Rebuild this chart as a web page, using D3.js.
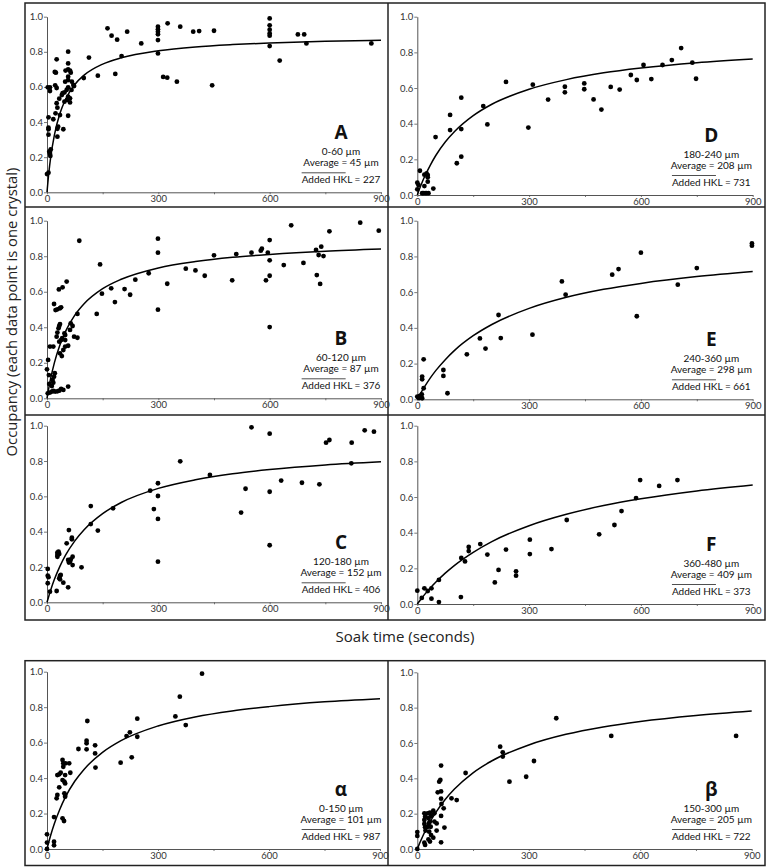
<!DOCTYPE html>
<html>
<head>
<meta charset="utf-8">
<script src="https://cdn.jsdelivr.net/npm/d3@7"></script>
<style>
  html, body { margin: 0; padding: 0; background: #fff; }
  svg { display: block; }
</style>
</head>
<body>
<svg id="chart" width="770" height="867"></svg>
<script>
// ---------------- DATA ----------------
const panelKeys   = ["A", "B", "C", "D", "E", "F", "α", "β"];
const sizeRanges  = ["0-60 µm", "60-120 µm", "120-180 µm", "180-240 µm", "240-360 µm", "360-480 µm", "0-150 µm", "150-300 µm"];
const averageSizes = [45, 87, 152, 208, 298, 409, 101, 205];
const addedHKL    = [227, 376, 406, 731, 661, 373, 987, 722];

const xTicks = [0, 300, 600, 900];
const xMinorTicks = [0, 150, 300, 450, 600, 750, 900];
const yTicks = [0, 0.2, 0.4, 0.6, 0.8, 1.0];

const yAxisTitle = "Occupancy (each data point is one crystal)";
const xAxisTitle = "Soak time (seconds)";

// soak time (s), occupancy
const pointsA = [
  [0,0.104],[4,0.112],[4,0.427],[4,0.368],[4,0.359],[4,0.328],[2,0.598],[8,0.598],[8,0.577],
  [6,0.231],[8,0.218],[10,0.245],[9,0.207],[17,0.416],[21,0.685],[24,0.681],[22,0.609],[26,0.594],
  [26,0.757],[23,0.450],[26,0.507],[28,0.482],[28,0.362],[30,0.374],[28,0.317],[33,0.533],[35,0.440],
  [40,0.554],[42,0.564],[44,0.359],[47,0.569],[49,0.630],[47,0.516],[50,0.693],[53,0.583],[54,0.526],
  [57,0.545],[57,0.801],[57,0.734],[57,0.700],[57,0.658],[57,0.639],[57,0.598],[57,0.436],[62,0.693],
  [64,0.681],[62,0.512],[62,0.535],[66,0.583],[67,0.630],[71,0.611],[73,0.605],
  [163,0.934],[174,0.892],[189,0.869],[184,0.674],[201,0.776],[113,0.767],[137,0.664],[99,0.651],
  [216,0.915],[254,0.848],[299,0.943],[299,0.928],[299,0.915],[299,0.900],[299,0.867],[299,0.791],
  [313,0.657],[324,0.653],[325,0.962],[350,0.630],[359,0.943],[394,0.915],[410,0.918],[450,0.920],
  [445,0.609],[600,0.990],[600,0.951],[600,0.926],[600,0.905],[600,0.892],[600,0.833],[627,0.750],
  [676,0.899],[693,0.899],[699,0.848],[874,0.848]
];
const pointsB = [
  [0,0.163],[3,0.216],[8,0.291],[5,0.131],[2,0.028],[8,0.032],[6,0.081],[13,0.038],[17,0.041],
  [22,0.038],[28,0.039],[33,0.043],[44,0.047],[13,0.069],[15,0.103],[19,0.122],[21,0.141],[17,0.088],
  [17,0.291],[19,0.531],[23,0.497],[28,0.501],[35,0.507],[32,0.613],[28,0.370],[26,0.347],[31,0.394],
  [33,0.407],[35,0.418],[33,0.319],[38,0.328],[41,0.338],[38,0.512],[42,0.625],[47,0.366],[35,0.253],
  [40,0.238],[44,0.272],[49,0.291],[49,0.328],[53,0.657],[57,0.296],[57,0.066],[38,0.053],[64,0.422],
  [69,0.407],[73,0.347],[82,0.341],[82,0.475],[62,0.385],[49,0.356],
  [87,0.887],[134,0.475],[143,0.754],[148,0.589],[173,0.619],[183,0.542],[209,0.615],[224,0.583],
  [238,0.668],[274,0.704],[299,0.899],[299,0.820],[299,0.499],[324,0.645],[374,0.730],[400,0.720],
  [425,0.690],[450,0.805],[499,0.664],[510,0.812],[551,0.820],[576,0.831],[579,0.842],[590,0.664],
  [595,0.820],[600,0.891],[600,0.777],[600,0.690],[600,0.401],[638,0.750],[658,0.974],[691,0.762],
  [725,0.835],[727,0.694],[732,0.807],[736,0.644],[739,0.854],[745,0.801],[761,0.940],[844,0.989],
  [894,0.944]
];
const pointsC = [
  [2,0.189],[2,0.151],[4,0.142],[2,0.108],[8,0.060],[26,0.064],[28,0.268],[28,0.281],[31,0.287],
  [33,0.274],[28,0.258],[35,0.149],[35,0.130],[37,0.155],[33,0.136],[44,0.111],[53,0.334],[57,0.085],
  [59,0.409],[57,0.240],[59,0.225],[62,0.230],[64,0.243],[67,0.366],[67,0.357],[69,0.258],[69,0.211],
  [93,0.198],[118,0.545],[118,0.443],[137,0.406],[178,0.532],[278,0.632],[288,0.528],[299,0.674],
  [299,0.602],[299,0.472],[299,0.230],[359,0.798],[439,0.721],[523,0.508],[535,0.643],[551,0.991],
  [600,0.955],[600,0.626],[600,0.323],[631,0.689],[687,0.677],[734,0.668],[752,0.904],[761,0.919],
  [821,0.904],[820,0.787],[856,0.974],[881,0.966]
];
const pointsD = [
  [0,0.032],[0,0.069],[3,0.056],[7,0.136],[13,0.010],[16,0.010],[21,0.010],[25,0.010],[30,0.010],
  [19,0.050],[19,0.114],[25,0.121],[28,0.112],[28,0.075],[28,0.099],[43,0.036],[49,0.325],[88,0.449],
  [88,0.364],[106,0.178],[118,0.546],[118,0.370],[118,0.215],[177,0.499],[188,0.396],[238,0.634],
  [298,0.378],[310,0.619],[351,0.535],[396,0.607],[396,0.576],[448,0.626],[448,0.593],[473,0.536],
  [494,0.479],[519,0.606],[543,0.591],[573,0.673],[589,0.645],[607,0.729],[628,0.650],[658,0.729],
  [683,0.757],[708,0.824],[738,0.742],[748,0.652]
];
const pointsE = [
  [0,0.015],[2,0.011],[5,0.007],[7,0.019],[12,0.028],[13,0.006],[13,0.127],[13,0.112],[17,0.224],
  [17,0.062],[70,0.164],[70,0.131],[81,0.034],[133,0.252],[168,0.341],[183,0.284],[218,0.472],
  [224,0.343],[309,0.362],[388,0.660],[398,0.586],[523,0.698],[540,0.729],[589,0.465],[600,0.821],
  [699,0.642],[750,0.735],[898,0.873],[898,0.860]
];
const pointsF = [
  [0,0.075],[12,0.034],[19,0.088],[28,0.073],[38,0.088],[38,0.030],[58,0.135],[58,0.011],[117,0.039],
  [118,0.258],[128,0.239],[138,0.320],[138,0.297],[169,0.336],[188,0.277],[208,0.121],[218,0.191],
  [238,0.305],[265,0.183],[265,0.159],[302,0.361],[302,0.280],[360,0.308],[401,0.471],[488,0.391],
  [529,0.443],[548,0.521],[587,0.594],[598,0.695],[649,0.662],[698,0.695]
];
const pointsAlpha = [
  [0,0.000],[0,0.036],[0,0.083],[19,0.021],[19,0.041],[19,0.180],[26,0.286],[28,0.305],[28,0.417],
  [33,0.421],[37,0.430],[33,0.348],[42,0.173],[46,0.158],[42,0.502],[44,0.464],[44,0.483],[42,0.389],
  [47,0.380],[47,0.314],[49,0.295],[49,0.305],[50,0.483],[49,0.417],[49,0.370],[60,0.483],[63,0.430],
  [85,0.564],[109,0.722],[107,0.611],[107,0.596],[107,0.562],[130,0.585],[130,0.539],[131,0.459],
  [199,0.487],[215,0.637],[224,0.658],[229,0.517],[244,0.735],[244,0.633],[347,0.748],[359,0.859],
  [375,0.699],[419,0.989]
];
const pointsBeta = [
  [0,0.096],[0,0.074],[0,0.000],[19,0.202],[21,0.183],[19,0.164],[19,0.142],[21,0.123],[22,0.104],
  [19,0.036],[21,0.023],[28,0.202],[30,0.174],[31,0.145],[28,0.126],[34,0.206],[37,0.187],[34,0.155],
  [36,0.126],[30,0.055],[34,0.042],[37,0.079],[32,0.098],[43,0.217],[46,0.202],[46,0.155],[43,0.064],
  [52,0.145],[52,0.104],[55,0.321],[59,0.381],[62,0.391],[64,0.472],[64,0.326],[64,0.285],[65,0.255],
  [64,0.187],[64,0.038],[71,0.230],[73,0.121],[92,0.287],[106,0.277],[130,0.430],[223,0.579],
  [230,0.547],[230,0.523],[248,0.381],[293,0.409],[314,0.498],[374,0.740],[522,0.640],[858,0.640]
];
const panelPoints = [pointsA, pointsB, pointsC, pointsD, pointsE, pointsF, pointsAlpha, pointsBeta];

// fitted saturation curves at these soak times
const fitTimes = [0, 5, 10, 20, 35, 50, 75, 100, 150, 200, 300, 400, 500, 600, 750, 900];
const fitA     = [0, 0.113, 0.200, 0.327, 0.450, 0.529, 0.614, 0.667, 0.730, 0.766, 0.806, 0.828, 0.841, 0.850, 0.860, 0.866];
const fitB     = [0, 0.060, 0.113, 0.201, 0.302, 0.377, 0.468, 0.532, 0.617, 0.670, 0.734, 0.770, 0.794, 0.810, 0.828, 0.840];
const fitC     = [0, 0.036, 0.070, 0.130, 0.205, 0.267, 0.348, 0.411, 0.502, 0.565, 0.645, 0.694, 0.728, 0.752, 0.778, 0.796];
const fitD     = [0, 0.029, 0.056, 0.105, 0.168, 0.223, 0.297, 0.356, 0.445, 0.509, 0.593, 0.647, 0.685, 0.712, 0.742, 0.763];
const fitE     = [0, 0.019, 0.038, 0.072, 0.120, 0.162, 0.222, 0.274, 0.356, 0.419, 0.509, 0.571, 0.616, 0.649, 0.687, 0.715];
const fitF     = [0, 0.014, 0.028, 0.054, 0.090, 0.123, 0.173, 0.217, 0.290, 0.350, 0.439, 0.503, 0.552, 0.590, 0.634, 0.667];
const fitAlpha = [0, 0.041, 0.078, 0.144, 0.226, 0.294, 0.382, 0.449, 0.545, 0.611, 0.694, 0.745, 0.779, 0.803, 0.830, 0.848];
const fitBeta  = [0, 0.026, 0.050, 0.096, 0.156, 0.207, 0.280, 0.339, 0.431, 0.498, 0.589, 0.649, 0.691, 0.722, 0.756, 0.781];
const panelFits = [fitA, fitB, fitC, fitD, fitE, fitF, fitAlpha, fitBeta];

// ---------------- LAYOUT ----------------
const layout = [
  { x0: 47,    x1: 381,   y0: 192.3, y1: 16.7 },   // A
  { x0: 47,    x1: 381,   y0: 398.3, y1: 220.7 },  // B
  { x0: 47,    x1: 381,   y0: 602.3, y1: 425.7 },  // C
  { x0: 417.3, x1: 752.7, y0: 195,   y1: 16.7 },   // D
  { x0: 417.3, x1: 752.7, y0: 399.3, y1: 220.7 },  // E
  { x0: 417.3, x1: 752.7, y0: 604,   y1: 425.7 },  // F
  { x0: 47,    x1: 380,   y0: 849,   y1: 671.7 },  // alpha
  { x0: 417.3, x1: 751.7, y0: 849,   y1: 672.3 }   // beta
];

const svg = d3.select("#chart");
const smallFont = "Lato, 'Open Sans', sans-serif";
const titleFont = "'Open Sans', 'Noto Sans', sans-serif";
const axisColor = "#555";
const textColor = "#333";
const frameColor = "#222";

// frames
const frame = svg.append("g").attr("fill", "none").attr("stroke", frameColor).attr("stroke-width", 1.5);
frame.append("rect").attr("x", 25).attr("y", 3).attr("width", 740).attr("height", 617);
frame.append("line").attr("x1", 25).attr("x2", 765).attr("y1", 207).attr("y2", 207);
frame.append("line").attr("x1", 25).attr("x2", 765).attr("y1", 415).attr("y2", 415);
frame.append("line").attr("x1", 388).attr("x2", 388).attr("y1", 3).attr("y2", 620);
frame.append("rect").attr("x", 25).attr("y", 660.7).attr("width", 740).attr("height", 204.8);
frame.append("line").attr("x1", 388).attr("x2", 388).attr("y1", 660.7).attr("y2", 865.5);

// axis titles
svg.append("text")
  .attr("transform", "translate(16.5,312) rotate(-90)")
  .attr("text-anchor", "middle")
  .attr("font-family", titleFont).attr("font-size", 14.8).attr("fill", "#222")
  .text(yAxisTitle);
svg.append("text")
  .attr("x", 405).attr("y", 642)
  .attr("text-anchor", "middle")
  .attr("font-family", titleFont).attr("font-size", 15).attr("fill", "#222")
  .text(xAxisTitle);

panelKeys.forEach((key, i) => {
  const L = layout[i];
  const x = d3.scaleLinear().domain([0, 900]).range([L.x0, L.x1]);
  const y = d3.scaleLinear().domain([0, 1]).range([L.y0, L.y1]);
  const g = svg.append("g");

  // y axis
  const yAx = g.append("g").attr("transform", `translate(${L.x0},0)`)
    .call(d3.axisLeft(y).tickValues(yTicks).tickFormat(d3.format(".1f")).tickSize(3).tickSizeOuter(0).tickPadding(1));
  // x axis
  const xAx = g.append("g").attr("transform", `translate(0,${L.y0})`)
    .call(d3.axisBottom(x).tickValues(xMinorTicks)
      .tickFormat(d => xTicks.includes(d) ? d : "").tickSize(2).tickSizeOuter(0).tickPadding(1));
  [yAx, xAx].forEach(ax => {
    ax.select(".domain").attr("stroke", axisColor).attr("stroke-width", 1);
    ax.selectAll(".tick line").attr("stroke", axisColor).attr("stroke-width", 0.8);
    ax.selectAll(".tick text").attr("fill", textColor).attr("font-family", smallFont).attr("font-size", 9.5);
  });

  // fitted curve
  const fitPts = fitTimes.map((t, j) => [t, panelFits[i][j]]);
  g.append("path")
    .datum(fitPts)
    .attr("fill", "none").attr("stroke", "#000").attr("stroke-width", 1.5)
    .attr("d", d3.line().x(d => x(d[0])).y(d => y(d[1])).curve(d3.curveMonotoneX));

  // data points
  g.append("g").selectAll("circle")
    .data(panelPoints[i]).join("circle")
    .attr("cx", d => x(d[0])).attr("cy", d => y(d[1])).attr("r", 2.4)
    .attr("fill", "#000");

  // annotation
  const cx = L.x0 + 294;
  const ann = g.append("g").attr("text-anchor", "middle").attr("fill", "#111");
  ann.append("text").attr("x", cx).attr("y", L.y0 - 53)
    .attr("font-family", titleFont).attr("font-weight", "bold").attr("font-size", 19)
    .text(key);
  ann.append("text").attr("x", cx).attr("y", L.y0 - 37.5)
    .attr("font-family", smallFont).attr("font-size", 10).text(sizeRanges[i]);
  ann.append("text").attr("x", cx).attr("y", L.y0 - 26)
    .attr("font-family", smallFont).attr("font-size", 10).text(`Average = ${averageSizes[i]} µm`);
  const added = ann.append("text").attr("x", cx).attr("y", L.y0 - 9)
    .attr("font-family", smallFont).attr("font-size", 10).text(`Added HKL = ${addedHKL[i]}`);
  const w = added.node().getComputedTextLength();
  g.append("line")
    .attr("x1", cx - w / 2).attr("x2", cx - w / 2 + 44)
    .attr("y1", L.y0 - 19.5).attr("y2", L.y0 - 19.5)
    .attr("stroke", "#222").attr("stroke-width", 0.8);
});
</script>
</body>
</html>
